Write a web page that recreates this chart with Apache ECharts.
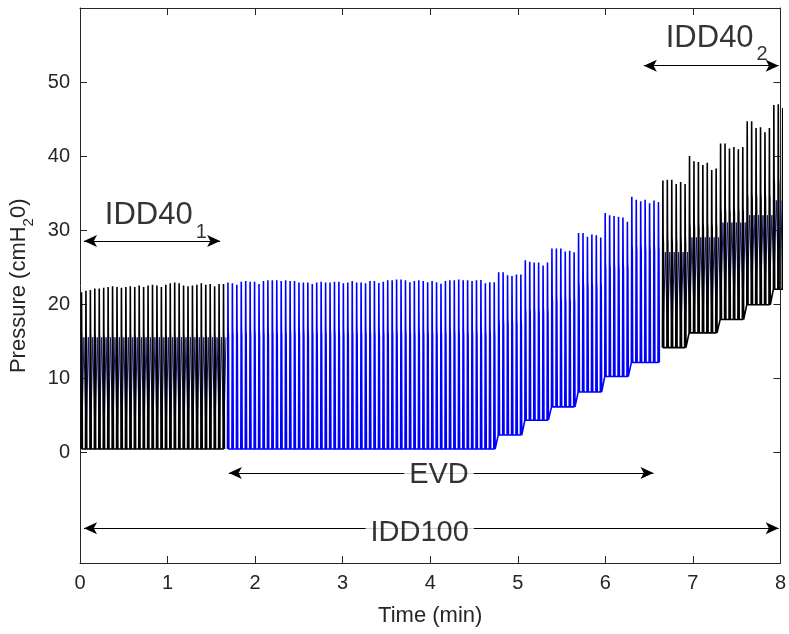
<!DOCTYPE html>
<html><head><meta charset="utf-8">
<script src="https://cdn.jsdelivr.net/npm/echarts@6/dist/echarts.min.js"></script>
<style>html,body{margin:0;padding:0;background:#fff}#c{width:789px;height:634px}</style>
</head><body><div id="c"></div>
<script>
// ---------- axis ticks ----------
const timeTicks = [0, 1, 2, 3, 4, 5, 6, 7, 8];
const pressureTicks = [0, 10, 20, 30, 40, 50];

// ---------- breathing timing (min) ----------
const breathPeriod = 0.05069;
const firstPeakTime = 0.017;

// ---------- IDD40 (first) : black ----------
const idd40FirstPeaks = [21.6, 21.8, 21.9, 22.1, 22.1, 22.2, 22.3, 22.4, 22.3, 22.2, 22.3, 22.4, 22.3, 22.5, 22.3, 22.5, 22.6,
  22.5, 22.3, 22.6, 22.8, 22.9, 22.8, 22.5, 22.4, 22.5, 22.6, 22.8, 22.6, 22.7, 22.4, 22.7, 22.7];
const idd40FirstGroupSizes = [33];
const idd40FirstTroughs = [0.4];
const idd40FirstPlateaus = [16.0];
const idd40FirstUnderTroughs = [1.0];
const idd40FirstUnderPeaks = [15.5];

// ---------- EVD : blue ----------
const evdPeaks = [
  22.9, 22.8, 22.6, 23.0, 23.1, 23.0, 23.0, 22.7, 23.1, 23.2, 23.2, 23.2, 23.1, 23.2, 23.1, 23.1, 22.9, 22.9, 22.9, 22.7,
  22.9, 23.0, 22.9, 22.9, 23.0, 23.0, 22.8, 22.9, 23.1, 22.9, 22.9,
  22.8, 23.1, 23.1, 22.85, 23.0, 23.2, 23.2, 23.3, 23.3, 23.2, 22.95, 23.1, 23.2, 23.1, 22.95, 23.1, 22.95, 22.75, 23.1, 23.2,
  23.2, 23.3, 23.2, 23.2, 23.1, 23.2, 23.25, 22.8, 22.95, 22.95,
  24.3, 24.3, 23.9, 23.8, 24.0, 24.0,
  25.9, 25.7, 25.6, 25.6, 25.2, 25.6,
  27.5, 27.5, 27.5, 27.1, 27.2, 27.0,
  29.6, 29.6, 29.1, 29.4, 29.3, 29.0,
  32.3, 32.0, 31.9, 31.8, 31.7, 31.1,
  34.5, 34.1, 33.9, 34.1, 33.6, 34.0, 33.8];
const evdGroupSizes = [61, 6, 6, 6, 6, 6, 7];
const evdTroughs = [0.4, 2.3, 4.3, 6.1, 8.1, 10.2, 12.1];
const evdPlateaus = [16.5, 18.0, 19.5, 21.0, 23.0, 25.5, 28.0];

// ---------- IDD40 (second) : black ----------
const idd40SecondPeaks = [36.7, 36.8, 36.8, 36.2, 36.5, 36.2,
  40.0, 39.3, 39.2, 38.8, 39.1, 38.1, 38.3,
  41.7, 41.7, 41.0, 41.2, 40.9, 41.2,
  44.7, 44.7, 43.8, 43.9, 43.2, 43.8,
  46.9, 47.0, 46.5];
const idd40SecondGroupSizes = [6, 7, 6, 6, 3];
const idd40SecondTroughs = [14.1, 16.1, 17.9, 19.9, 22.0];
const idd40SecondPlateaus = [29.0, 31.0, 33.0, 35.0, 37.0];
const idd40SecondUnderTroughs = [15.0, 17.0, 19.0, 21.0, 23.0];
const idd40SecondUnderPeaks = [27.0, 29.0, 31.0, 32.0, 34.0];

// ---------- annotations ----------
const arrowSpans = [ // [x1, x2, y]
  [0.046, 1.60, 28.5],
  [6.44, 7.98, 52.2],
  [1.70, 6.55, -2.85],
  [0.046, 7.98, -10.3]
];

const fontFam = '"Liberation Sans", Arial, Helvetica, sans-serif';
const axisGray = '#262626';

function buildBreaths(startIndex, peaks, sizes, troughs, plateaus) {
  const pts = [];
  let k = startIndex, i = 0;
  const p = breathPeriod;
  for (let g = 0; g < sizes.length; g++) {
    for (let j = 0; j < sizes[g]; j++) {
      const t = firstPeakTime + k * p;
      pts.push([t - 0.10 * p, troughs[g]]);
      pts.push([t, peaks[i]]);
      pts.push([t + 0.05 * p, plateaus[g]]);
      pts.push([t + 0.11 * p, plateaus[g] - 0.8]);
      pts.push([t + 0.20 * p, troughs[g]]);
      k++; i++;
    }
  }
  return pts;
}
function buildUnderlay(startIndex, sizes, troughs, peaks) {
  const pts = [];
  let k = startIndex;
  const p = breathPeriod;
  for (let g = 0; g < sizes.length; g++) {
    for (let j = 0; j < sizes[g]; j++) {
      const t = firstPeakTime + k * p;
      pts.push([t + 0.05 * p, troughs[g]]);
      pts.push([t + 0.55 * p, peaks[g]]);
      k++;
    }
  }
  return pts;
}

const nA = idd40FirstPeaks.length;
const nE = evdPeaks.length;
const dataA = buildBreaths(0, idd40FirstPeaks, idd40FirstGroupSizes, idd40FirstTroughs, idd40FirstPlateaus);
const dataE = buildBreaths(nA, evdPeaks, evdGroupSizes, evdTroughs, evdPlateaus);
const dataC = buildBreaths(nA + nE, idd40SecondPeaks, idd40SecondGroupSizes, idd40SecondTroughs, idd40SecondPlateaus);
const underA = buildUnderlay(0, idd40FirstGroupSizes, idd40FirstUnderTroughs, idd40FirstUnderPeaks);
const underC = buildUnderlay(nA + nE, idd40SecondGroupSizes, idd40SecondUnderTroughs, idd40SecondUnderPeaks);

function wave(name, data, color, width, z) {
  return { name, type: 'line', data, showSymbol: false, symbol: 'none', animation: false, z,
    lineStyle: { color, width, join: 'miter', miterLimit: 3 }, itemStyle: { color }, emphasis: { disabled: true } };
}

const textRich = {
  m: { fontSize: 31, fontFamily: fontFam, color: '#000', lineHeight: 31, verticalAlign: 'top' },
  s: { fontSize: 20, fontFamily: fontFam, color: '#000', lineHeight: 20, verticalAlign: 'bottom', padding: [0, 0, 0, 3] },
  h: { fontSize: 2, lineHeight: 42, verticalAlign: 'top' }
};

const option = {
  animation: false,
  backgroundColor: '#fff',
  grid: { left: 80, right: 6, top: 8, bottom: 71, containLabel: false },
  xAxis: [
    { type: 'value', min: 0, max: 8, interval: 1, position: 'bottom',
      axisLine: { onZero: false, lineStyle: { color: axisGray, width: 1 } },
      axisTick: { inside: true, length: 7, lineStyle: { color: axisGray } },
      axisLabel: { fontSize: 20, color: axisGray, margin: 10, fontFamily: fontFam },
      splitLine: { show: false },
      name: 'Time (min)', nameLocation: 'middle', nameGap: 42,
      nameTextStyle: { fontSize: 22, color: axisGray, fontFamily: fontFam } },
    { type: 'value', min: 0, max: 8, interval: 1, position: 'top',
      axisLine: { onZero: false, lineStyle: { color: axisGray, width: 1 } },
      axisTick: { inside: true, length: 7, lineStyle: { color: axisGray } },
      axisLabel: { show: false }, splitLine: { show: false } }
  ],
  yAxis: [
    { type: 'value', min: -15, max: 60, interval: 5, position: 'left',
      axisLine: { show: true, onZero: false, lineStyle: { color: axisGray, width: 1 } },
      axisTick: { show: true, inside: true, length: 7, customValues: pressureTicks, lineStyle: { color: axisGray } },
      axisLabel: { fontSize: 20, color: axisGray, margin: 10, fontFamily: fontFam, customValues: pressureTicks },
      splitLine: { show: false },
      name: '{a|Pressure (cmH}{s|2}{a|0)}{h| }', nameLocation: 'middle', nameGap: 44, nameRotate: 90,
      nameTextStyle: { rich: {
        a: { fontSize: 22, color: axisGray, fontFamily: fontFam, lineHeight: 22, verticalAlign: 'top' },
        s: { fontSize: 15, color: axisGray, fontFamily: fontFam, lineHeight: 15, verticalAlign: 'bottom' },
        h: { fontSize: 2, lineHeight: 28, verticalAlign: 'top' }
      } } },
    { type: 'value', min: -15, max: 60, interval: 5, position: 'right',
      axisLine: { show: true, onZero: false, lineStyle: { color: axisGray, width: 1 } },
      axisTick: { show: true, inside: true, length: 7, customValues: pressureTicks, lineStyle: { color: axisGray } },
      axisLabel: { show: false }, splitLine: { show: false } }
  ],
  series: [
    wave('IDD100 (under IDD40 1)', underA, '#1a1a70', 1.0, 1),
    wave('IDD100 (under IDD40 2)', underC, '#1a1a70', 1.0, 1),
    wave('EVD', dataE, '#0000ff', 1.6, 2),
    wave('IDD40 1', dataA, '#000000', 1.6, 3),
    wave('IDD40 2', dataC, '#000000', 1.6, 3),
    { name: 'arrows', type: 'line', data: [], z: 5, silent: true,
      markLine: { silent: true, animation: false, symbol: ['arrow', 'arrow'], symbolSize: [9, 13],
        label: { show: false }, lineStyle: { color: '#000', width: 1, type: 'solid' },
        emphasis: { disabled: true },
        data: arrowSpans.map(a => [{ coord: [a[0], a[2]] }, { coord: [a[1], a[2]] }]) } },
    { name: 'labels', type: 'scatter', z: 10, silent: true, symbolSize: 1,
      itemStyle: { color: 'rgba(0,0,0,0)' },
      label: { show: true, position: 'inside', color: '#000', fontFamily: fontFam },
      data: [
        { value: [0.284, 34.0], label: { formatter: '{m|IDD40}{s|1}{h| }', rich: textRich, align: 'left', verticalAlign: 'top' } },
        { value: [6.69, 58.0], label: { formatter: '{m|IDD40}{s|2}{h| }', rich: textRich, align: 'left', verticalAlign: 'top' } },
        { value: [4.10, -3.1], label: { formatter: 'EVD', fontSize: 29, align: 'center', verticalAlign: 'middle', backgroundColor: '#fff', padding: [0, 5, 0, 5] } },
        { value: [3.88, -11.0], label: { formatter: 'IDD100', fontSize: 29, align: 'center', verticalAlign: 'middle', backgroundColor: '#fff', padding: [0, 5, 0, 5] } }
      ] }
  ]
};

const chart = echarts.init(document.getElementById('c'), null, { renderer: 'canvas' });
chart.setOption(option);
</script>
</body></html>
